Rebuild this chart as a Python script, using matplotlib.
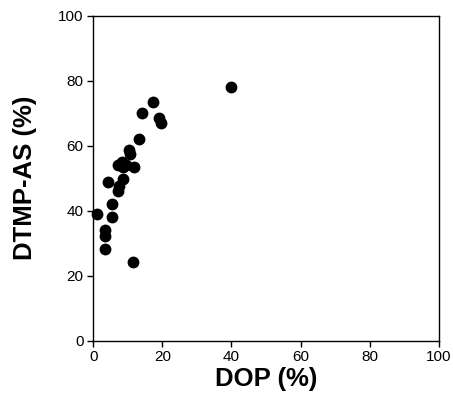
import matplotlib
matplotlib.use("Agg")
import matplotlib.pyplot as plt

plt.rcParams['font.family'] = ['Liberation Sans', 'DejaVu Sans']

dop = [1.2, 3.4, 3.4, 3.4, 4.3, 5.5, 5.5, 7.2, 7.2, 7.5, 8.4, 8.7, 8.5, 9.6,
       10.4, 10.6, 11.8, 11.6, 13.2, 14.0, 17.35, 19.0, 19.5, 39.8]
dtmp = [39.0, 34.1, 32.3, 28.2, 48.9, 42.1, 38.2, 54.1, 46.2, 47.6, 55.1, 53.4, 49.7, 54.0,
        58.7, 57.4, 53.4, 24.2, 62.1, 70.2, 73.5, 68.4, 66.9, 78.0]

xticks = [0, 20, 40, 60, 80, 100]
yticks = [0, 20, 40, 60, 80, 100]

fig = plt.figure(figsize=(4.53, 4.16), dpi=100)
ax = fig.add_axes([0.206, 0.181, 0.7625, 0.781])
ax.plot(dop, dtmp, 'o', color='black', markersize=7.5, linestyle='none', clip_on=False)
ax.set_xlim(0, 100)
ax.set_ylim(0, 100)
ax.set_xticks(xticks)
ax.set_yticks(yticks)
ax.tick_params(direction='out', length=4, width=1, labelsize=11, colors='black', pad=3)
for s in ax.spines.values():
    s.set_linewidth(1.0)
ax.set_xlabel('DOP (%)', fontsize=18.5, fontweight='bold', labelpad=2)
ax.set_ylabel('DTMP-AS (%)', fontsize=18.5, fontweight='bold', labelpad=15)
fig.savefig('out.png', dpi=100)
